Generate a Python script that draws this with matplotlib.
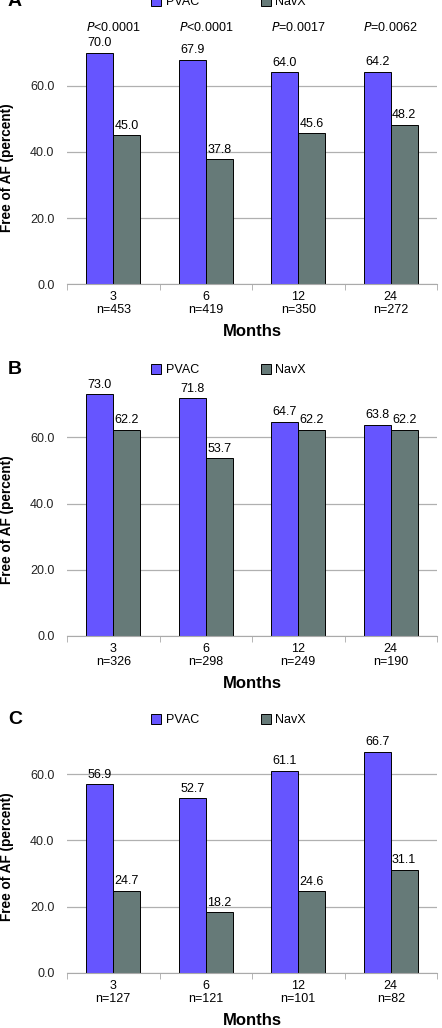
import matplotlib.pyplot as plt
import numpy as np

plt.rcParams["font.family"] = ["Liberation Sans", "DejaVu Sans"]

months = ["3", "6", "12", "24"]
n_a = [453, 419, 350, 272]
n_b = [326, 298, 249, 190]
n_c = [127, 121, 101, 82]
pvac_a = [70.0, 67.9, 64.0, 64.2]
navx_a = [45.0, 37.8, 45.6, 48.2]
pvac_b = [73.0, 71.8, 64.7, 63.8]
navx_b = [62.2, 53.7, 62.2, 62.2]
pvac_c = [56.9, 52.7, 61.1, 66.7]
navx_c = [24.7, 18.2, 24.6, 31.1]
p_ops = ["<", "<", "=", "="]
p_vals = ["0.0001", "0.0001", "0.0017", "0.0062"]

PVAC_COL = "#6655ff"
NAVX_COL = "#667a78"

W, H = 442, 1028
fig = plt.figure(figsize=(W / 100, H / 100), dpi=100)


def px_axes(left, top, right, bottom):
    return fig.add_axes([left / W, 1 - bottom / H, (right - left) / W, (bottom - top) / H])


def panel(letter, top, bottom, legend_y, pvac, navx, ns, pvals=None):
    ax = px_axes(67, top, 437, bottom)
    x = np.arange(len(months))
    w = 0.29
    ax.bar(x - w / 2, pvac, w, color=PVAC_COL, edgecolor="black", linewidth=0.7, label="PVAC", zorder=3)
    ax.bar(x + w / 2, navx, w, color=NAVX_COL, edgecolor="black", linewidth=0.7, label="NavX", zorder=3)
    for xi, v in zip(x, pvac):
        ax.text(xi - w / 2, v + 2.9, "%.1f" % v, ha="center", va="center", fontsize=9)
    for xi, v in zip(x, navx):
        ax.text(xi + w / 2, v + 2.9, "%.1f" % v, ha="center", va="center", fontsize=9)
    if pvals:
        for xi, (op, pv) in enumerate(pvals):
            ax.text(xi, 77.7, "$\\it{P}$" + op + pv, ha="center", va="center", fontsize=9)

    ax.set_xlim(-0.5, 3.5)
    ax.set_ylim(0, 80)
    ax.set_yticks([0, 20, 40, 60])
    ax.set_yticklabels(["0.0", "20.0", "40.0", "60.0"], fontsize=9, color="#222222")
    ax.tick_params(axis="y", length=0, pad=9)
    ax.set_xticks(x)
    ax.set_xticklabels(["%s\nn=%d" % (m, n) for m, n in zip(months, ns)], fontsize=9, linespacing=1.1)
    ax.tick_params(axis="x", length=0, pad=5)
    ax.set_xticks(np.arange(-0.5, 4.0, 1.0), minor=True)
    ax.tick_params(axis="x", which="minor", length=4, color="#aaaaaa", direction="out")
    ax.grid(axis="y", color="#b0b0b0", linewidth=0.9, zorder=0)
    for s in ["top", "right", "left"]:
        ax.spines[s].set_visible(False)
    ax.spines["bottom"].set_color("#aaaaaa")
    ax.spines["bottom"].set_zorder(4)

    ax.set_ylabel("Free of AF (percent)", fontsize=9.8, fontweight="bold")
    ax.yaxis.set_label_coords((14 - 67) / 370, 0.44)
    ax.set_xlabel("Months", fontsize=12, fontweight="bold", labelpad=6)

    fig.text(8 / W, 1 - legend_y / H, letter, fontsize=14, fontweight="bold", va="center", ha="left")
    ax.legend(loc="center left", bbox_to_anchor=(151 / W, 1 - legend_y / H), bbox_transform=fig.transFigure,
              ncol=2, frameon=False, fontsize=9, handlelength=0.8, handleheight=0.8,
              columnspacing=4.9, handletextpad=0.4, borderaxespad=0, borderpad=0)
    return ax


panel("A", 19.5, 284.3, 2, pvac_a, navx_a, n_a, list(zip(p_ops, p_vals)))
panel("B", 371, 636, 370, pvac_b, navx_b, n_b)
panel("C", 708, 972.7, 720, pvac_c, navx_c, n_c)

fig.savefig("out.png", dpi=100)
